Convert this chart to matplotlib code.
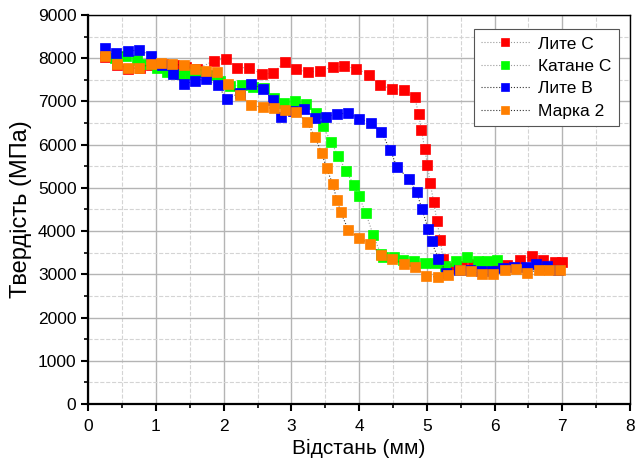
import numpy as np
import matplotlib
matplotlib.use("Agg")
import matplotlib.pyplot as plt
from matplotlib.ticker import MultipleLocator

plt.rcParams['font.family'] = ['Liberation Sans', 'DejaVu Sans']

# Лите С
x_lc = [0.25, 0.42, 0.59, 0.76, 0.93, 1.10, 1.27, 1.44, 1.61, 1.85, 2.04, 2.20, 2.38, 2.56, 2.73, 2.90,
        3.07, 3.25, 3.42, 3.61, 3.78, 3.96, 4.14, 4.31, 4.49, 4.67, 4.82, 4.88, 4.92, 4.97, 5.01,
        5.05, 5.10, 5.15, 5.20, 5.24, 5.35, 5.52, 5.68, 5.85, 6.02, 6.19, 6.37, 6.55, 6.72, 6.89, 7.00]
y_lc = [8030, 7850, 7760, 7770, 7850, 7870, 7840, 7800, 7740, 7940, 7990, 7780, 7780, 7630, 7650, 7920,
        7740, 7670, 7710, 7790, 7810, 7760, 7620, 7370, 7290, 7270, 7100, 6710, 6340, 5900, 5520,
        5120, 4680, 4240, 3790, 3350, 3150, 3200, 3230, 3250, 3200, 3220, 3330, 3430, 3330, 3290, 3290]

# Катане С
x_kc = [0.40, 0.55, 0.72, 0.87, 1.01, 1.16, 1.36, 1.50, 1.65, 1.80, 1.95, 2.10, 2.27, 2.43, 2.59, 2.74,
        2.89, 3.06, 3.21, 3.36, 3.47, 3.59, 3.69, 3.81, 3.92, 4.00, 4.10, 4.21, 4.32, 4.36, 4.51,
        4.65, 4.81, 4.97, 5.12, 5.27, 5.43, 5.59, 5.75, 5.89, 6.03]
y_kc = [8000, 8040, 7960, 7860, 7770, 7690, 7640, 7640, 7690, 7600, 7460, 7350, 7380, 7330, 7310, 7080,
        6970, 7000, 6940, 6730, 6420, 6050, 5740, 5380, 5070, 4800, 4410, 3900, 3470, 3400, 3410,
        3330, 3300, 3260, 3260, 3200, 3310, 3390, 3310, 3310, 3330]

# Лите В
x_lb = [0.25, 0.41, 0.58, 0.75, 0.92, 1.09, 1.25, 1.42, 1.58, 1.74, 1.91, 2.05, 2.24, 2.41, 2.58, 2.73,
        2.85, 3.02, 3.18, 3.35, 3.51, 3.68, 3.84, 4.00, 4.17, 4.33, 4.46, 4.56, 4.74, 4.85, 4.93,
        5.02, 5.07, 5.17, 5.29, 5.47, 5.64, 5.80, 5.96, 6.13, 6.29, 6.46, 6.62, 6.77, 6.94]
y_lb = [8230, 8110, 8160, 8190, 8060, 7850, 7630, 7400, 7480, 7520, 7370, 7050, 7200, 7410, 7280, 7040,
        6650, 6770, 6820, 6610, 6650, 6710, 6730, 6600, 6500, 6290, 5870, 5480, 5200, 4900, 4500,
        4050, 3760, 3360, 3040, 3100, 3100, 3080, 3080, 3140, 3180, 3180, 3230, 3200, 3100]

# Марка 2
x_m2 = [0.25, 0.42, 0.59, 0.75, 0.92, 1.08, 1.24, 1.42, 1.58, 1.74, 1.90, 2.07, 2.24, 2.41, 2.58, 2.74,
        2.90, 3.07, 3.23, 3.35, 3.45, 3.52, 3.61, 3.67, 3.73, 3.84, 4.00, 4.16, 4.33, 4.49, 4.66,
        4.83, 4.99, 5.16, 5.32, 5.49, 5.65, 5.82, 5.98, 6.15, 6.32, 6.48, 6.65, 6.81, 6.96]
y_m2 = [8060, 7860, 7770, 7770, 7860, 7880, 7860, 7830, 7750, 7710, 7670, 7400, 7150, 6910, 6860, 6840,
        6810, 6750, 6520, 6170, 5800, 5450, 5090, 4730, 4430, 4030, 3840, 3700, 3450, 3360, 3250,
        3160, 2970, 2930, 2980, 3100, 3080, 3000, 3000, 3100, 3120, 3040, 3100, 3100, 3100]

series = [
    (x_lc, y_lc, '#ff0000', '#9a9a9a', 'Лите С'),
    (x_kc, y_kc, '#00ff00', '#9a9a9a', 'Катане С'),
    (x_lb, y_lb, '#0000ff', '#333333', 'Лите В'),
    (x_m2, y_m2, '#ff7f00', '#333333', 'Марка 2'),
]

fig = plt.figure(figsize=(6.35, 4.66), dpi=100)
ax = fig.add_axes([0.139, 0.133, 0.853, 0.835])

for xs, ys, mcol, lcol, lab in series:
    ax.plot(xs, ys, linestyle=':', color=lcol, lw=0.8, marker='s', markersize=7,
            markerfacecolor=mcol, markeredgecolor=mcol, markeredgewidth=0.5, label=lab)

ax.set_xlim(0, 8)
ax.set_ylim(0, 9000)
ax.xaxis.set_major_locator(MultipleLocator(1))
ax.xaxis.set_minor_locator(MultipleLocator(0.5))
ax.yaxis.set_major_locator(MultipleLocator(1000))
ax.yaxis.set_minor_locator(MultipleLocator(500))

ax.grid(True, which='major', color='#b4b4b4', lw=1.0, linestyle='-')
ax.grid(True, which='minor', color='#d4d4d4', lw=0.8, linestyle='--')
ax.set_axisbelow(True)

ax.tick_params(which='major', direction='out', length=5, width=1.5, labelsize=12.5)
ax.tick_params(axis='x', which='major', pad=6)
ax.tick_params(which='minor', direction='out', length=3, width=1.2)
for side in ['left', 'bottom']:
    ax.spines[side].set_linewidth(1.6)
for side in ['top', 'right']:
    ax.spines[side].set_linewidth(1.0)

ax.set_xlabel('Відстань (мм)', fontsize=15, labelpad=3)
ax.set_ylabel('Твердість (МПа)', fontsize=17, labelpad=4)

leg = ax.legend(loc='upper right', bbox_to_anchor=(0.995, 0.985), fontsize=12.5, fancybox=False,
                framealpha=1, edgecolor='#555555', handlelength=2.8, borderpad=0.4,
                labelspacing=0.42, markerscale=0.8, handletextpad=0.5)
leg.get_frame().set_linewidth(0.8)

fig.savefig('out.png', dpi=100)
